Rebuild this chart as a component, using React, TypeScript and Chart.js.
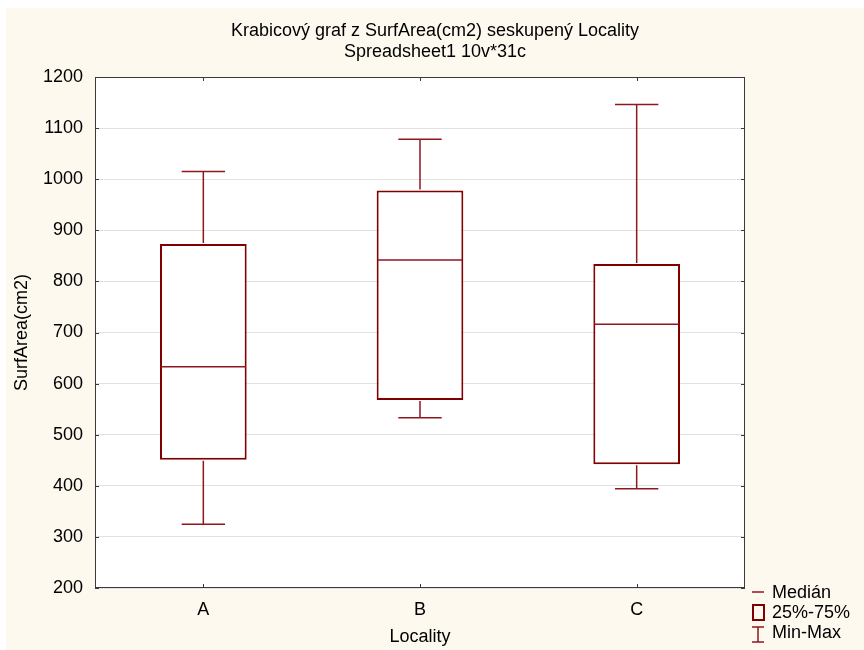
import React, { useEffect, useRef } from "react";
import { Chart, registerables } from "chart.js";

Chart.register(...registerables);

const categories = ["A", "B", "C"];
const minValues = [325, 533, 394];
const q1Values = [451, 568, 442];
const medianValues = [633, 842, 716];
const q3Values = [873, 978, 834];
const maxValues = [1015, 1078, 1146];
const titleLines = ["Krabicový graf z SurfArea(cm2) seskupený Locality", "Spreadsheet1 10v*31c"];
const legendLabels = ["Medián", "25%-75%", "Min-Max"];

const FONT = "'Liberation Sans', Arial, sans-serif";
const BOX_COLOR = "#800000";
const LINE_COLOR = "#8f1820";

const boxPlugin = {
  id: "boxExtras",
  beforeDraw(chart: any) {
    const { ctx, chartArea } = chart;
    ctx.save();
    ctx.fillStyle = "#ffffff";
    ctx.fillRect(chartArea.left, chartArea.top, chartArea.right - chartArea.left, chartArea.bottom - chartArea.top);
    ctx.restore();
  },
  afterDatasetsDraw(chart: any) {
    const { ctx, chartArea, scales } = chart;
    const xs = scales.x;
    const ys = scales.y;
    const catW = (chartArea.right - chartArea.left) / categories.length;
    const capHalf = catW * 0.1;
    const boxHalf = catW * 0.2;
    ctx.save();
    ctx.strokeStyle = LINE_COLOR;
    ctx.lineWidth = 1.5;
    categories.forEach((_, i) => {
      const x = xs.getPixelForValue(i);
      const yMin = ys.getPixelForValue(minValues[i]);
      const yQ1 = ys.getPixelForValue(q1Values[i]);
      const yMed = ys.getPixelForValue(medianValues[i]);
      const yQ3 = ys.getPixelForValue(q3Values[i]);
      const yMax = ys.getPixelForValue(maxValues[i]);
      ctx.beginPath();
      ctx.moveTo(x, yQ1 + 1);
      ctx.lineTo(x, yMin);
      ctx.moveTo(x - capHalf, yMin);
      ctx.lineTo(x + capHalf, yMin);
      ctx.moveTo(x, yQ3 - 1);
      ctx.lineTo(x, yMax);
      ctx.moveTo(x - capHalf, yMax);
      ctx.lineTo(x + capHalf, yMax);
      ctx.moveTo(x - boxHalf + 1, yMed);
      ctx.lineTo(x + boxHalf - 1, yMed);
      ctx.stroke();
    });
    ctx.restore();
  },
  afterDraw(chart: any) {
    const { ctx, chartArea, scales } = chart;
    const { left, right, top, bottom } = chartArea;
    ctx.save();
    ctx.strokeStyle = "#3a3a3a";
    ctx.lineWidth = 1;
    ctx.strokeRect(left + 0.5, top + 0.5, right - left - 1, bottom - top - 1);
    ctx.beginPath();
    categories.forEach((_, i) => {
      const x = Math.round(scales.x.getPixelForValue(i)) + 0.5;
      ctx.moveTo(x, top);
      ctx.lineTo(x, top + 4);
      ctx.moveTo(x, bottom);
      ctx.lineTo(x, bottom - 4);
    });
    scales.y.ticks.forEach((t: any) => {
      const y = Math.round(scales.y.getPixelForValue(t.value)) + 0.5;
      ctx.moveTo(left, y);
      ctx.lineTo(left + 4, y);
      ctx.moveTo(right, y);
      ctx.lineTo(right - 4, y);
    });
    ctx.stroke();

    // legend
    const lx = 746;
    const sw = 12;
    ctx.strokeStyle = LINE_COLOR;
    ctx.lineWidth = 1.5;
    ctx.beginPath();
    ctx.moveTo(lx, 584);
    ctx.lineTo(lx + sw, 584);
    ctx.stroke();
    ctx.strokeStyle = BOX_COLOR;
    ctx.lineWidth = 2;
    ctx.strokeRect(lx + 1, 597, sw - 1, 15);
    ctx.strokeStyle = LINE_COLOR;
    ctx.lineWidth = 1.5;
    ctx.beginPath();
    ctx.moveTo(lx, 619);
    ctx.lineTo(lx + sw, 619);
    ctx.moveTo(lx + sw / 2, 619);
    ctx.lineTo(lx + sw / 2, 634);
    ctx.moveTo(lx, 634);
    ctx.lineTo(lx + sw, 634);
    ctx.stroke();
    ctx.fillStyle = "#000";
    ctx.font = `18px ${FONT}`;
    ctx.textBaseline = "middle";
    ctx.textAlign = "left";
    legendLabels.forEach((lab, i) => {
      ctx.fillText(lab, 766, 585 + i * 20);
    });
    ctx.restore();
  },
};

export default function App() {
  const canvasRef = useRef<HTMLCanvasElement | null>(null);
  useEffect(() => {
    if (!canvasRef.current) return;
    const chart = new Chart(canvasRef.current, {
      type: "bar",
      data: {
        labels: categories,
        datasets: [
          {
            data: categories.map((_, i) => [q1Values[i], q3Values[i]]) as any,
            backgroundColor: "#ffffff",
            borderColor: BOX_COLOR,
            borderWidth: 2,
            borderSkipped: false,
            categoryPercentage: 1,
            barPercentage: 0.4,
            yAxisID: "y",
          },
        ],
      },
      options: {
        animation: false,
        responsive: false,
        maintainAspectRatio: false,
        events: [],
        color: "#000",
        layout: { padding: { left: 0, right: 0, top: 0, bottom: 0 } },
        plugins: {
          legend: { display: false },
          tooltip: { enabled: false },
          title: {
            display: true,
            text: titleLines,
            color: "#000",
            font: { family: FONT, size: 18, weight: "normal", lineHeight: 1.167 },
            padding: { top: 12.5, bottom: 14.5 },
          },
        },
        scales: {
          x: {
            type: "category",
            offset: true,
            afterFit: (s: any) => {
              s.height = 62;
            },
            grid: { display: false, drawTicks: false },
            border: { display: false },
            ticks: { color: "#000", font: { family: FONT, size: 18 }, padding: 11 },
            title: {
              display: true,
              text: "Locality",
              color: "#000",
              font: { family: FONT, size: 18 },
              padding: { top: 0, bottom: 2 },
            },
          },
          y: {
            min: 200,
            max: 1200,
            afterFit: (s: any) => {
              s.width = 89;
            },
            grid: { color: "#e2e2e2", lineWidth: 1, drawTicks: false },
            border: { display: false },
            ticks: {
              stepSize: 100,
              color: "#000",
              font: { family: FONT, size: 18 },
              padding: 12,
              callback: (v: any) => String(v),
            },
            title: {
              display: true,
              text: "SurfArea(cm2)",
              color: "#000",
              font: { family: FONT, size: 18 },
              padding: { top: 5, bottom: 0 },
            },
          },
          yRight: {
            type: "linear",
            position: "right",
            min: 200,
            max: 1200,
            afterFit: (s: any) => {
              s.width = 119;
            },
            grid: { display: false, drawTicks: false },
            border: { display: false },
            ticks: { display: false },
          },
        },
      },
      plugins: [boxPlugin],
    });
    return () => chart.destroy();
  }, []);

  return (
    <div
      style={{
        position: "absolute",
        left: 6,
        top: 8,
        width: 858,
        height: 642,
        background: "#fef9ef",
      }}
    >
      <canvas ref={canvasRef} width={858} height={642} style={{ width: 858, height: 642, display: "block" }} />
    </div>
  );
}
